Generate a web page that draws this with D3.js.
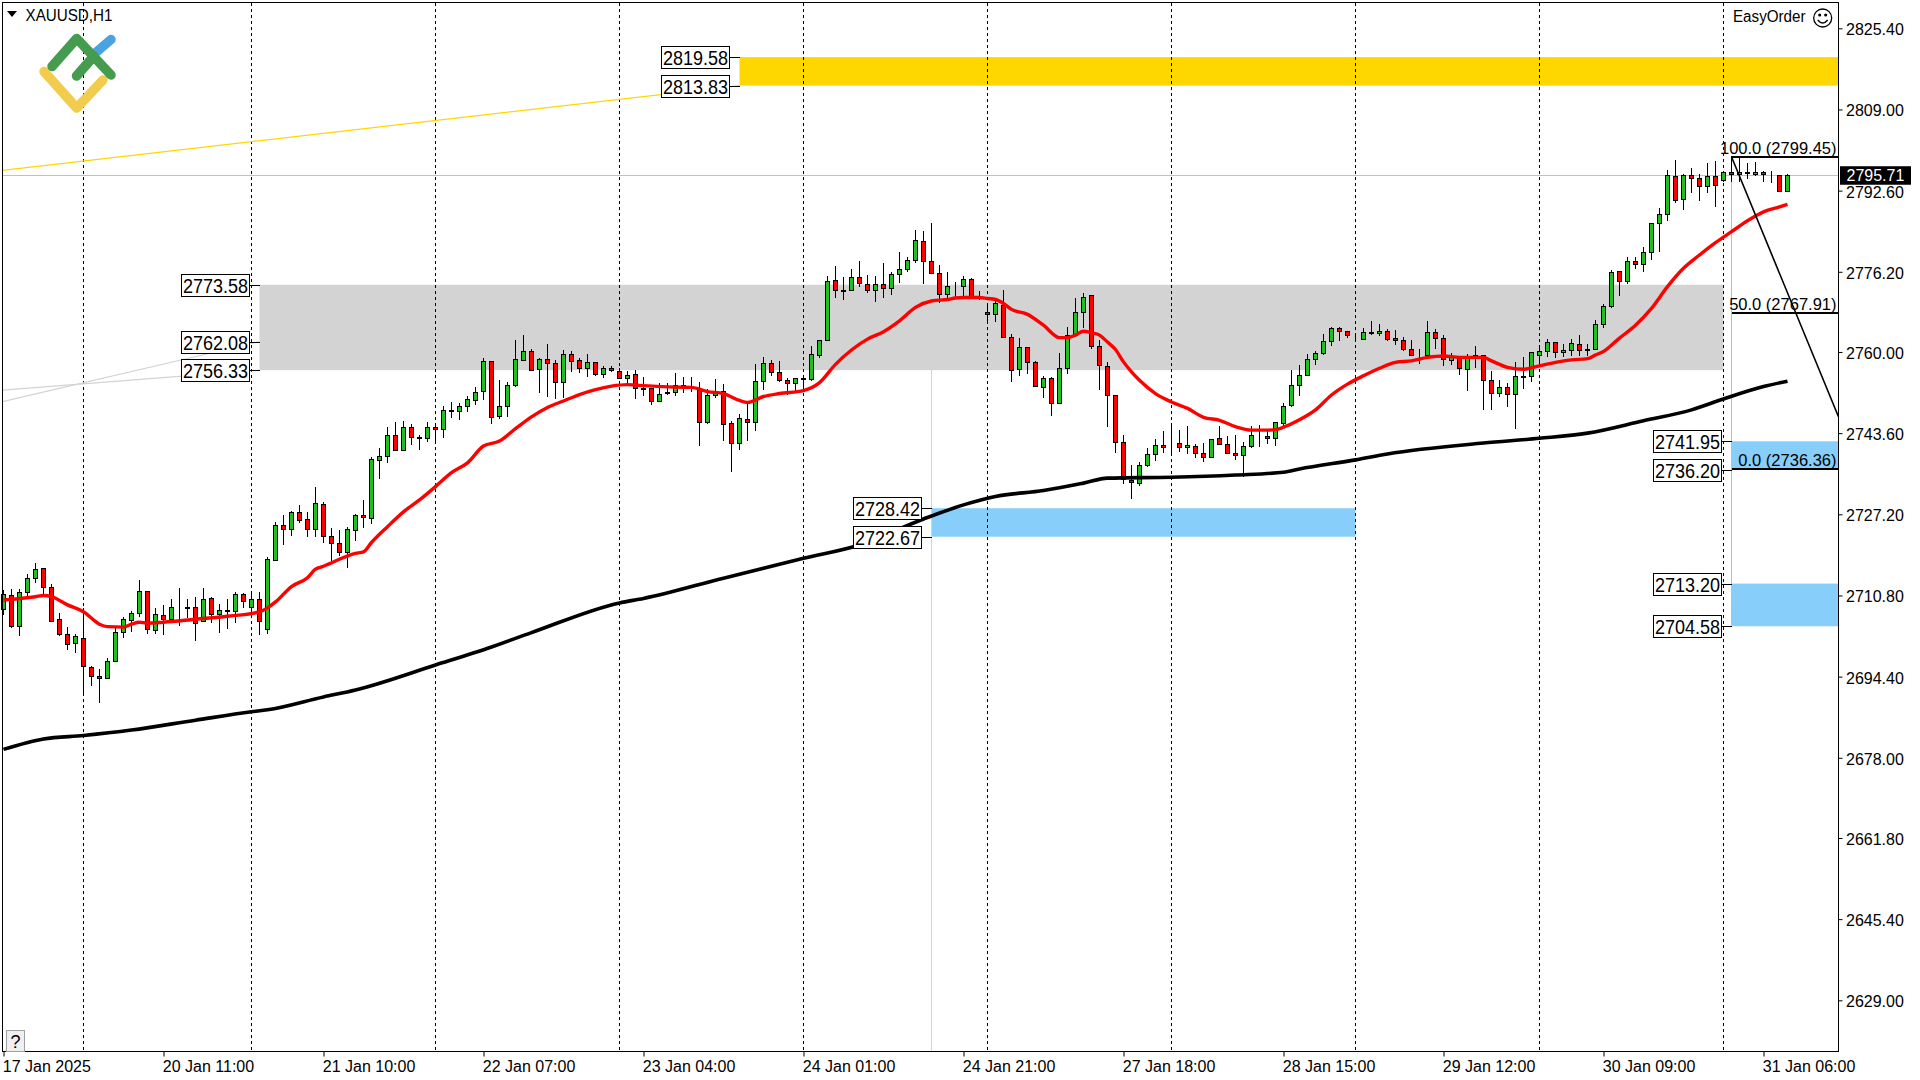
<!DOCTYPE html>
<html><head><meta charset="utf-8">
<script src="https://cdn.jsdelivr.net/npm/d3@7/dist/d3.min.js"></script>
<style>
html,body{margin:0;padding:0;background:#fff;overflow:hidden}
svg{display:block}
text{font-family:"Liberation Sans",Arial,sans-serif;fill:#000}
</style></head><body>
<svg id="c" width="1920" height="1080"></svg>
<script>
const opens=[2708.0,2710.8,2704.7,2711.6,2714.3,2716.3,2712.6,2706.0,2703.1,2701.1,
2702.3,2696.3,2694.5,2694.1,2697.5,2703.5,2705.8,2707.2,2711.8,2703.8,
2706.8,2706.0,2708.4,2708.4,2708.4,2705.6,2710.2,2707.0,2707.8,2707.6,
2711.0,2708.4,2710.0,2704.0,2718.0,2725.0,2724.3,2727.6,2726.2,2724.3,
2729.2,2722.9,2721.3,2719.6,2724.1,2727.0,2726.4,2738.1,2738.9,2743.2,
2740.1,2744.8,2742.8,2742.6,2744.8,2744.4,2748.2,2748.0,2749.0,2750.2,
2752.2,2758.1,2747.0,2749.0,2753.3,2758.3,2760.1,2756.5,2758.5,2757.7,
2753.9,2759.5,2758.3,2756.7,2757.9,2755.5,2756.7,2756.1,2754.7,2755.5,
2752.7,2752.7,2750.0,2751.9,2751.9,2753.1,2753.0,2752.5,2745.8,2751.4,
2752.1,2745.6,2741.7,2746.4,2745.8,2754.1,2757.7,2755.9,2754.3,2753.7,
2754.7,2754.5,2759.3,2762.5,2774.5,2772.5,2772.5,2775.1,2773.7,2772.5,
2773.7,2772.9,2775.7,2776.7,2778.5,2782.4,2778.3,2775.9,2771.8,2773.3,
2773.4,2774.7,2771.1,2768.1,2767.7,2769.5,2763.0,2756.5,2761.1,2757.9,
2753.0,2754.7,2749.6,2756.7,2763.4,2768.0,2771.6,2761.3,2757.1,2751.4,
2741.9,2734.2,2733.6,2737.1,2739.3,2741.3,2741.5,2741.7,2740.7,2741.1,
2739.5,2738.7,2742.7,2741.5,2739.5,2739.1,2741.1,2743.3,2743.1,2742.7,
2745.6,2749.3,2753.3,2755.3,2758.5,2759.7,2762.2,2764.8,2764.2,2762.9,
2762.6,2764.0,2763.8,2764.2,2762.8,2762.4,2760.7,2759.3,2759.3,2764.0,
2762.8,2758.3,2758.9,2756.6,2759.1,2759.3,2754.3,2751.7,2752.9,2751.5,
2755.1,2755.1,2759.3,2760.1,2762.0,2759.9,2760.3,2761.6,2760.6,2760.6,
2765.6,2769.2,2776.3,2774.3,2778.3,2777.7,2780.1,2786.0,2787.8,2795.5,
2791.0,2795.7,2795.1,2793.5,2795.5,2794.7,2796.3,2795.9,2796.3,2795.9,
2796.3,2795.7,2795.7,2792.6];
const highs=[2711.9,2712.2,2712.2,2715.1,2717.3,2716.3,2713.2,2707.2,2704.4,2703.1,
2708.2,2696.5,2696.0,2698.1,2704.2,2706.4,2707.7,2713.9,2711.8,2708.2,
2708.9,2710.0,2712.4,2710.1,2710.4,2712.4,2710.4,2709.0,2710.1,2711.4,
2711.2,2711.8,2711.4,2718.6,2725.7,2727.1,2727.9,2729.1,2727.6,2732.8,
2729.6,2724.4,2724.0,2724.7,2727.2,2730.1,2738.7,2740.5,2744.8,2745.8,
2746.0,2745.4,2743.2,2745.8,2745.0,2749.0,2749.8,2749.6,2751.2,2752.9,
2758.7,2758.1,2754.3,2753.9,2762.4,2763.4,2760.5,2758.7,2761.6,2758.3,
2760.4,2760.1,2758.7,2759.6,2757.9,2757.1,2757.1,2756.7,2756.1,2756.4,
2755.0,2752.7,2753.7,2753.7,2755.7,2754.9,2754.9,2753.9,2752.5,2754.5,
2753.5,2746.1,2747.4,2749.6,2757.5,2759.0,2758.3,2758.2,2754.7,2754.7,
2755.3,2761.2,2762.5,2775.4,2777.4,2775.1,2776.7,2778.4,2775.6,2775.3,
2777.9,2776.2,2780.2,2779.1,2784.6,2784.4,2786.0,2777.5,2776.2,2774.1,
2775.3,2774.9,2772.3,2769.8,2770.5,2772.5,2763.6,2762.8,2761.1,2758.2,
2755.1,2755.0,2759.7,2765.0,2771.0,2772.0,2771.6,2762.5,2757.9,2751.4,
2743.2,2737.1,2737.8,2740.5,2742.5,2744.0,2745.0,2744.3,2745.1,2741.5,
2741.7,2742.5,2745.0,2743.0,2743.2,2741.9,2745.1,2745.3,2744.5,2745.8,
2749.6,2756.4,2757.4,2759.5,2760.1,2763.7,2765.0,2765.0,2764.2,2763.8,
2764.8,2766.3,2765.6,2764.6,2764.4,2763.0,2762.4,2760.7,2766.3,2764.6,
2763.4,2759.7,2758.9,2759.6,2761.2,2759.3,2756.1,2754.3,2753.7,2757.9,
2758.9,2759.9,2761.1,2762.6,2762.0,2761.6,2762.6,2763.4,2761.6,2766.5,
2769.6,2776.6,2776.3,2779.1,2779.1,2781.3,2786.0,2789.0,2796.8,2798.8,
2795.9,2797.1,2795.9,2798.1,2798.6,2796.5,2799.6,2799.3,2798.1,2798.3,
2796.6,2796.5,2795.7,2795.9];
const lows=[2706.8,2704.3,2702.7,2710.6,2713.4,2711.0,2705.5,2702.7,2699.8,2699.2,
2690.7,2692.6,2689.1,2693.9,2697.4,2702.3,2703.5,2706.5,2703.0,2703.0,
2702.8,2705.2,2704.7,2706.2,2701.7,2705.5,2705.2,2703.3,2704.0,2705.3,
2708.2,2707.9,2702.8,2703.0,2717.9,2721.0,2722.9,2725.5,2722.7,2722.7,
2721.5,2717.8,2718.8,2716.4,2721.9,2724.5,2725.2,2734.4,2737.6,2740.1,
2739.9,2741.2,2740.1,2741.9,2741.5,2742.7,2746.7,2746.3,2747.9,2749.2,
2750.2,2745.5,2746.5,2746.9,2752.9,2758.2,2756.2,2751.8,2751.0,2750.4,
2750.6,2755.9,2755.8,2755.0,2755.1,2754.8,2755.9,2754.5,2753.7,2750.5,
2751.2,2749.3,2749.8,2751.4,2751.1,2751.8,2751.9,2740.9,2745.4,2750.8,
2742.1,2735.8,2740.2,2742.1,2744.1,2752.3,2755.2,2753.9,2751.4,2752.2,
2752.3,2754.2,2758.7,2762.3,2771.0,2770.6,2772.3,2773.2,2772.0,2770.0,
2771.0,2771.6,2773.9,2776.1,2777.9,2773.8,2775.8,2769.8,2770.8,2771.0,
2771.2,2770.8,2770.5,2765.8,2766.1,2763.0,2754.0,2755.1,2755.6,2752.9,
2750.8,2747.1,2749.4,2755.5,2763.0,2764.8,2760.5,2752.3,2744.9,2739.5,
2733.4,2730.3,2733.0,2736.8,2738.0,2739.5,2739.1,2739.8,2739.3,2738.5,
2737.8,2738.5,2741.3,2739.3,2738.1,2734.8,2740.5,2740.8,2741.5,2741.0,
2744.9,2748.9,2751.1,2755.3,2757.4,2759.4,2761.2,2762.2,2762.8,2762.3,
2762.4,2763.4,2763.2,2762.3,2761.4,2760.1,2759.2,2757.5,2758.9,2760.7,
2757.1,2757.4,2755.4,2752.2,2756.7,2748.3,2748.2,2751.0,2748.8,2744.5,
2752.6,2754.0,2757.4,2758.9,2758.7,2758.9,2759.2,2759.2,2759.1,2760.3,
2764.9,2768.8,2771.4,2773.7,2776.8,2776.2,2778.6,2780.1,2786.5,2790.2,
2788.7,2792.2,2790.6,2792.2,2789.2,2794.4,2794.4,2794.3,2794.9,2795.5,
2794.4,2794.1,2792.3,2792.3];
const closes=[2711.0,2704.7,2711.6,2714.3,2716.1,2712.6,2705.7,2703.1,2700.9,2702.7,
2696.5,2694.5,2694.1,2697.5,2703.5,2706.0,2707.2,2711.8,2704.0,2707.0,
2706.0,2708.4,2708.4,2708.3,2705.2,2710.0,2707.0,2707.8,2707.7,2711.0,
2709.6,2710.0,2705.6,2718.1,2725.0,2724.3,2727.6,2726.0,2724.3,2729.4,
2722.9,2721.3,2719.6,2724.2,2727.0,2726.6,2738.3,2738.9,2743.2,2740.1,
2744.8,2742.8,2742.6,2744.8,2744.4,2748.2,2748.1,2749.0,2750.4,2752.0,
2758.1,2746.8,2749.0,2753.3,2758.5,2760.1,2756.4,2758.5,2757.7,2753.9,
2759.5,2758.2,2756.7,2757.9,2755.5,2756.7,2756.3,2754.7,2755.3,2752.7,
2752.5,2750.0,2751.6,2751.7,2753.3,2753.3,2752.9,2745.8,2751.4,2751.9,
2745.4,2741.7,2746.6,2745.8,2754.1,2757.7,2755.9,2754.3,2753.7,2754.7,
2754.5,2759.5,2762.5,2774.3,2772.5,2772.4,2775.1,2773.9,2772.5,2773.7,
2772.9,2775.7,2776.7,2778.5,2782.6,2778.3,2775.9,2771.8,2773.3,2773.4,
2774.7,2771.2,2771.3,2767.7,2769.8,2763.0,2756.3,2761.1,2757.9,2753.2,
2754.7,2749.6,2756.7,2763.4,2768.0,2771.2,2761.3,2757.3,2751.4,2741.9,
2734.4,2733.8,2737.1,2739.3,2741.3,2740.7,2741.4,2740.7,2741.3,2739.5,
2738.7,2742.5,2741.5,2739.5,2739.1,2741.1,2743.3,2743.2,2742.7,2745.8,
2749.0,2753.3,2755.3,2758.5,2759.7,2762.2,2764.8,2764.2,2763.4,2762.8,
2764.0,2763.8,2764.2,2762.6,2762.4,2760.7,2759.3,2759.3,2764.0,2762.8,
2758.5,2758.9,2756.7,2758.7,2759.3,2754.3,2751.7,2752.9,2751.5,2755.1,
2755.0,2759.9,2760.1,2762.0,2759.9,2760.3,2761.8,2760.3,2760.3,2765.6,
2769.2,2776.1,2774.3,2778.3,2777.7,2780.3,2786.0,2787.8,2795.7,2790.8,
2795.7,2795.1,2793.5,2795.5,2793.7,2796.3,2795.9,2796.3,2796.2,2796.3,
2795.9,2795.7,2792.6,2795.71];

const fastBars=[0,4,5,6,8,10,12,13,15,16,17,18,20,24,28,32,33,34,36,38,39,40,44,45,46,48,50,52,54,56,58,60,62,64,66,68,70,72,74,76,78,79,80,84,86,88,90,92,93,95,97,100,102,104,106,108,110,112,114,116,118,119,120,122,123,124,125,126,128,130,132,133,134,135,136,137,138,139,140,141,142,144,146,148,150,152,154,156,158,159,160,162,164,166,168,170,172,174,176,178,180,182,184,185,186,188,190,192,194,196,198,199,200,202,204,206,208,210,212,214,216,218,220,222,223];
const fastVals=[2709.9,2710.55,2710.8,2710.55,2708.9,2707.5,2705.0,2704.5,2704.4,2705.0,2705.4,2705.2,2705.4,2706.0,2706.6,2707.5,2708.3,2709.5,2712.6,2714.4,2716.1,2716.7,2719.3,2719.6,2721.5,2724.7,2727.7,2730.1,2732.8,2735.6,2737.6,2741.0,2742.0,2744.5,2746.9,2748.8,2750.1,2751.4,2752.4,2753.1,2753.4,2753.3,2753.2,2752.9,2752.85,2752.0,2751.6,2750.2,2749.8,2751.0,2751.6,2752.2,2753.8,2757.5,2760.4,2762.6,2764.1,2766.3,2769.0,2770.3,2770.6,2770.9,2771.0,2771.0,2770.8,2770.6,2769.8,2768.6,2767.6,2765.4,2762.9,2762.9,2763.4,2764.2,2763.9,2763.4,2762.0,2760.5,2758.0,2756.0,2754.3,2751.6,2749.9,2748.6,2746.8,2746.2,2744.9,2744.2,2744.2,2744.3,2744.8,2746.3,2748.3,2751.3,2753.5,2755.2,2756.7,2757.9,2758.2,2758.9,2759.2,2758.9,2758.9,2758.9,2758.2,2756.9,2756.5,2757.2,2757.9,2758.4,2758.65,2759.4,2760.1,2762.8,2765.4,2768.8,2773.2,2776.9,2779.6,2782.1,2784.3,2786.5,2788.3,2789.3,2789.8];
const slowBars=[0,5,10,16,24,31,33,40,44,54,61,66,77,80,90,100,107,115,120,124,130,135,138,146,154,160,162,169,173,185,192,198,205,211,215,220,223];
const slowVals=[2679.7,2681.8,2682.5,2683.6,2685.6,2687.3,2687.7,2690.3,2691.7,2696.75,2700.4,2703.3,2709.3,2710.2,2714.3,2718.3,2721.0,2726.25,2729.1,2730.8,2732.0,2733.5,2734.5,2734.7,2735.15,2735.7,2736.35,2738.2,2739.4,2741.6,2742.55,2743.6,2746.1,2748.3,2750.5,2753.0,2754.1];

const priceTicks=[2825.40,2809.00,2792.60,2776.20,2760.00,2743.60,2727.20,2710.80,2694.40,2678.00,2661.80,2645.40,2629.00];
const timeTickBars=[0,20,40,60,80,100,120,140,160,180,200,220];
const timeLabels=["17 Jan 2025","20 Jan 11:00","21 Jan 10:00","22 Jan 07:00","23 Jan 04:00","24 Jan 01:00","24 Jan 21:00","27 Jan 18:00","28 Jan 15:00","29 Jan 12:00","30 Jan 09:00","31 Jan 06:00"];
const gridBars=[10,31,54,77,100,123,146,169,192,215];

const zoneTops=[2819.58,2773.58,2728.42,2741.95,2713.20];
const zoneBottoms=[2813.83,2756.33,2722.67,2736.20,2704.58];
const zoneStartBars=[92,32,116,216,216];
const zoneEndBars=[null,215,169,null,null];
const zoneColors=["#ffd700","#d3d3d3","#87cefa","#87cefa","#87cefa"];
const labelPrices=[2819.58,2813.83,2773.58,2762.08,2756.33,2728.42,2722.67,2741.95,2736.20,2713.20,2704.58];
const labelBars=[92,92,32,32,32,116,116,216,216,216,216];
const fibLevels=["100.0","50.0","0.0"];
const fibPrices=[2799.45,2767.91,2736.36];
const lastPrice=2795.71;

const W=1920,H=1080,L=2.5,T=2.5,R=1838.5,B=1051.5;
const svg=d3.select("#c");
const x=d3.scaleLinear().domain([0,223]).range([3.5,1787.5]);
const y=d3.scaleLinear().domain([2825.4,2629.0]).range([28.3,1000.3]);
const py=p=>Math.round(y(p))+.5;
const rightBar=x.invert(R);
const FS=16;

// zones
svg.append("g").selectAll("rect").data(zoneTops).join("rect")
 .attr("x",(d,i)=>x(zoneStartBars[i]))
 .attr("y",d=>y(d))
 .attr("width",(d,i)=>x(zoneEndBars[i]===null?rightBar:zoneEndBars[i])-x(zoneStartBars[i]))
 .attr("height",(d,i)=>y(zoneBottoms[i])-y(d))
 .attr("fill",(d,i)=>zoneColors[i]);

// grid
svg.append("g").selectAll("line").data(gridBars).join("line")
 .attr("x1",d=>x(d)).attr("x2",d=>x(d)).attr("y1",T).attr("y2",B)
 .attr("stroke","#000").attr("stroke-dasharray","3,3").attr("shape-rendering","crispEdges");

// current price and vertical helper lines
svg.append("line").attr("x1",L).attr("x2",R).attr("y1",py(lastPrice)).attr("y2",py(lastPrice))
 .attr("stroke","#c0c0c0").attr("shape-rendering","crispEdges");
svg.append("line").attr("x1",x(116)).attr("x2",x(116)).attr("y1",y(2756.33)).attr("y2",B)
 .attr("stroke","#d3d3d3").attr("shape-rendering","crispEdges");
svg.append("line").attr("x1",x(216)).attr("x2",x(216)).attr("y1",y(2799.45)).attr("y2",y(2704.58))
 .attr("stroke","#87cefa").attr("shape-rendering","crispEdges");

// thin trend lines
const thin=[[0,2796.7,92,2813.83,"#ffd700"],[0,2752.3,32,2756.33,"#d3d3d3"],[0,2749.95,32,2762.08,"#d3d3d3"]];
svg.append("g").selectAll("line").data(thin).join("line")
 .attr("x1",d=>x(d[0])-1).attr("y1",d=>y(d[1])).attr("x2",d=>x(d[2])).attr("y2",d=>y(d[3]))
 .attr("stroke",d=>d[4]).attr("stroke-width",1.2);

// candles
const bars=d3.range(opens.length);
const cg=svg.append("g").attr("shape-rendering","crispEdges");
cg.selectAll("line").data(bars).join("line")
 .attr("x1",i=>x(i)).attr("x2",i=>x(i)).attr("y1",i=>Math.round(y(highs[i]))).attr("y2",i=>Math.round(y(lows[i])))
 .attr("stroke","#000");
cg.selectAll("rect").data(bars).join("rect")
 .attr("x",i=>x(i)-2).attr("width",4)
 .attr("y",i=>py(Math.max(opens[i],closes[i])))
 .attr("height",i=>Math.max(0,py(Math.min(opens[i],closes[i]))-py(Math.max(opens[i],closes[i]))))
 .attr("fill",i=>closes[i]>=opens[i]?"#22bf22":"#ff0000")
 .attr("stroke","#000");

// moving averages
const ma=d3.line().x(d=>x(d[0])).y(d=>y(d[1])).curve(d3.curveMonotoneX);
svg.append("path").attr("d",ma(slowBars.map((b,i)=>[b,slowVals[i]]))).attr("fill","none").attr("stroke","#000").attr("stroke-width",3.6).attr("stroke-linejoin","round");
svg.append("path").attr("d",ma(fastBars.map((b,i)=>[b,fastVals[i]]))).attr("fill","none").attr("stroke","#ff0000").attr("stroke-width",3.4).attr("stroke-linejoin","round");

// fibo
svg.append("line").attr("x1",x(216)).attr("y1",y(2799.45)).attr("x2",R).attr("y2",y(2746.9)).attr("stroke","#000").attr("stroke-width",1.6);
const fg=svg.append("g").selectAll("g").data(fibPrices).join("g");
fg.append("line").attr("x1",x(216)).attr("x2",R).attr("y1",d=>y(d)).attr("y2",d=>y(d)).attr("stroke","#000").attr("stroke-width",2).attr("shape-rendering","crispEdges");
fg.append("text").attr("x",1836.5).attr("y",d=>y(d)-9).attr("dy","0.35em").attr("text-anchor","end").attr("font-size",16.5)
 .text((d,i)=>fibLevels[i]+" ("+d.toFixed(2)+")");

// price labels
const lg=svg.append("g").selectAll("g").data(labelPrices).join("g");
lg.append("line").attr("x1",(d,i)=>x(labelBars[i])-10).attr("x2",(d,i)=>x(labelBars[i])).attr("y1",d=>py(d)).attr("y2",d=>py(d)).attr("stroke","#000").attr("shape-rendering","crispEdges");
lg.append("rect").attr("x",(d,i)=>x(labelBars[i])-78).attr("width",68).attr("y",d=>py(d)-11).attr("height",22)
 .attr("fill","#fff").attr("stroke","#000").attr("shape-rendering","crispEdges");
lg.append("text").attr("x",(d,i)=>x(labelBars[i])-76.5).attr("y",d=>py(d)).attr("dy","0.36em").attr("font-size",20)
 .attr("textLength",65).attr("lengthAdjust","spacingAndGlyphs")
 .text(d=>d.toFixed(2));

// axes
const yAxis=d3.axisRight(y).tickValues(priceTicks).tickFormat(d3.format(".2f")).tickSize(4).tickPadding(4);
const ya=svg.append("g").attr("transform",`translate(${R},0)`).call(yAxis);
ya.select(".domain").remove();
ya.selectAll("text").attr("font-size",FS).attr("font-family","Liberation Sans").attr("fill","#000").attr("dy","0.4em").attr("dx",-0.5);
const xAxis=d3.axisBottom(x).tickValues(timeTickBars).tickFormat((d,i)=>timeLabels[i]).tickSize(5).tickPadding(4);
const xa=svg.append("g").attr("transform",`translate(0,${B})`).call(xAxis);
xa.select(".domain").remove();
xa.selectAll("text").attr("font-size",FS).attr("font-family","Liberation Sans").attr("fill","#000").attr("text-anchor","start").attr("dx",-1.2);
svg.append("rect").attr("x",L).attr("y",T).attr("width",R-L).attr("height",B-T).attr("fill","none").attr("stroke","#000").attr("shape-rendering","crispEdges");

// last price tag
svg.append("rect").attr("x",1840).attr("y",y(lastPrice)-9).attr("width",71).attr("height",18.5).attr("fill","#000");
svg.append("text").attr("x",1846.5).attr("y",y(lastPrice)+.5).attr("dy","0.36em").attr("font-size",FS).style("fill","#fff").text(lastPrice.toFixed(2));

// header
svg.append("path").attr("d","M7 11 L17 11 L12 17 Z").attr("fill","#000");
svg.append("text").attr("x",25.5).attr("y",15.5).attr("dy","0.36em").attr("font-size",16).attr("textLength",87).attr("lengthAdjust","spacingAndGlyphs").text("XAUUSD,H1");
svg.append("text").attr("x",1733).attr("y",16.5).attr("dy","0.36em").attr("font-size",16).attr("textLength",72.5).attr("lengthAdjust","spacingAndGlyphs").text("EasyOrder");
const sm=svg.append("g").attr("transform","translate(1822.7,18)").attr("fill","none").attr("stroke","#000").attr("stroke-width",1.3);
sm.append("circle").attr("r",9);
sm.append("path").attr("d","M-5 2 Q0 8 5 2");
sm.append("circle").attr("cx",-3).attr("cy",-3).attr("r",.9).attr("fill","#000");
sm.append("circle").attr("cx",3).attr("cy",-3).attr("r",.9).attr("fill","#000");

// logo
const lgo=svg.append("g").attr("fill","none").attr("stroke-width",9.5).attr("stroke-linecap","round").attr("stroke-linejoin","round");
lgo.append("path").attr("d","M93 55 L111 39.5").attr("stroke","#4aa3e0");
lgo.append("path").attr("d","M44 71.5 L76.7 108 L103 80").attr("stroke","#f2cc4d");
lgo.append("path").attr("d","M52 66.5 L76.7 38.5 L111 75").attr("stroke","#459c4f");
lgo.append("path").attr("d","M76.5 76 L94 56").attr("stroke","#459c4f");

// help button
svg.append("rect").attr("x",6.5).attr("y",1030.5).attr("width",18).attr("height",20.5).attr("fill","#f0f0f0").attr("stroke","#a0a0a0").attr("shape-rendering","crispEdges");
svg.append("text").attr("x",15.5).attr("y",1041.5).attr("dy","0.36em").attr("text-anchor","middle").attr("font-size",18).text("?");
</script>
</body></html>
